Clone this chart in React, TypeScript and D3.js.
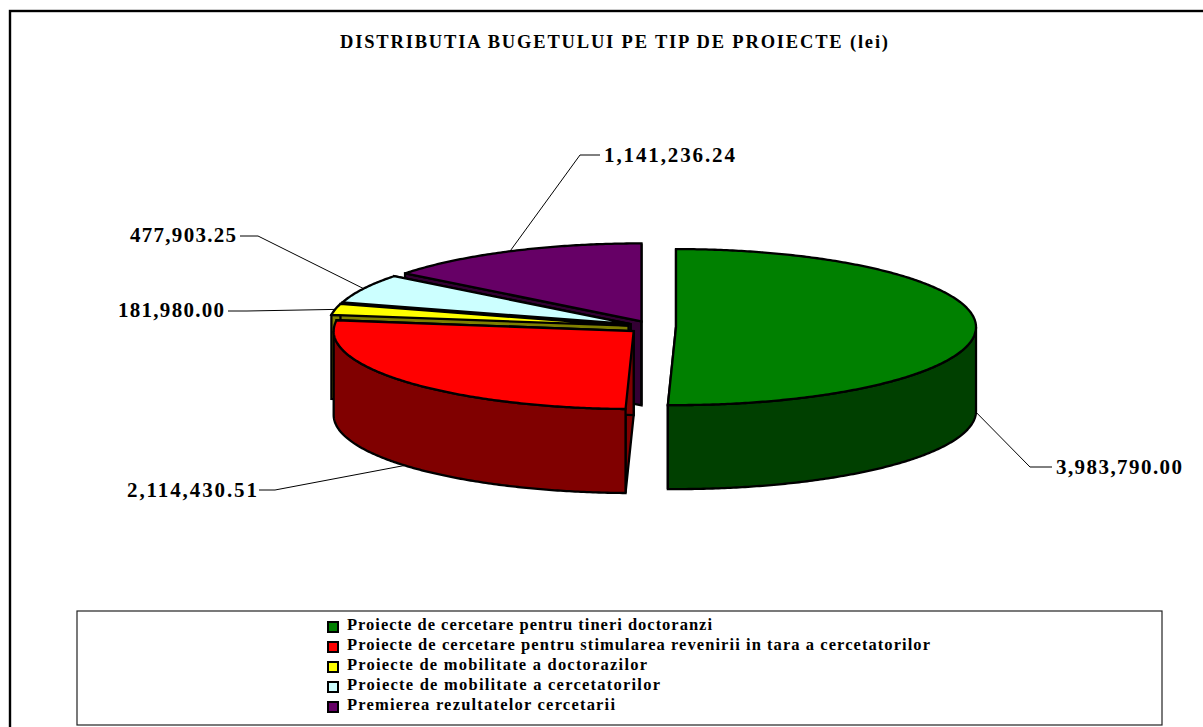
import React from "react";
import * as d3 from "d3";

const titleText = "DISTRIBUTIA BUGETULUI PE TIP DE PROIECTE (lei)";
const categories = [
  "Proiecte de cercetare pentru tineri doctoranzi",
  "Proiecte de cercetare pentru stimularea revenirii in tara a cercetatorilor",
  "Proiecte de mobilitate a doctorazilor",
  "Proiecte de mobilitate a cercetatorilor",
  "Premierea rezultatelor cercetarii",
];
const budgetValues = [3983790.0, 2114430.51, 181980.0, 477903.25, 1141236.24];
const topColors = ["#008000", "#FF0000", "#FFFF00", "#CCFFFF", "#660066"];
const wallColors = ["#004000", "#800000", "#808000", "#668080", "#330033"];

// layout
const cx = 652, cy = 327, rx = 300, ry = 78, depth = 84, explode = 24;
const FONT = "'Liberation Serif', 'Times New Roman', serif";
// per-slice: label left x, label width, baseline, elbow x, line-end x at label
const labelBoxes = [
  { x: 1056, w: 126, y: 474, elbowX: 1030, elbowY: 467, endX: 1052 },
  { x: 127, w: 130, y: 497, elbowX: 275, elbowY: 490, endX: 259 },
  { x: 118, w: 106, y: 317, elbowX: 247, elbowY: 311, endX: 228 },
  { x: 130, w: 106, y: 242, elbowX: 258, elbowY: 236, endX: 240 },
  { x: 604, w: 131, y: 162, elbowX: 580, elbowY: 155, endX: 600 },
];
const legendRows = { x: 347, markX: 327, firstY: 630, step: 20, widths: [365, 583, 300, 313, 268] };

const fmt = d3.format(",.2f");
const linePath = d3.line<[number, number]>().curve(d3.curveLinear);

export default function App() {
  const arcs = d3.pie<number>().sort(null).startAngle(0).endAngle(2 * Math.PI)(budgetValues);

  const slices = arcs.map((a, i) => {
    const mid = (a.startAngle + a.endAngle) / 2;
    const ax = cx + explode * Math.sin(mid);
    const ay = cy - explode * (ry / rx) * Math.cos(mid);
    const pt = (t: number, dy = 0): [number, number] => [ax + rx * Math.sin(t), ay - ry * Math.cos(t) + dy];
    const samples = (s: number, e: number, dy = 0): [number, number][] => {
      const n = Math.max(2, Math.ceil((e - s) / 0.01));
      return d3.range(n + 1).map((k) => pt(s + ((e - s) * k) / n, dy));
    };
    const apex: [number, number] = [ax, ay];
    const apexLow: [number, number] = [ax, ay + depth];
    const top = linePath([apex, ...samples(a.startAngle, a.endAngle)])! + "Z";
    const face = (t: number) => linePath([apex, pt(t), pt(t, depth), apexLow])! + "Z";
    const fs = Math.max(a.startAngle, Math.PI / 2);
    const fe = Math.min(a.endAngle, (3 * Math.PI) / 2);
    const wall =
      fe > fs
        ? linePath([...samples(fs, fe), ...samples(fs, fe, depth).reverse()])! + "Z"
        : null;
    // leader anchor: at mid-angle on the top rim, or on the wall's lower rim when front-facing
    const anchor = pt(mid, Math.cos(mid) < 0 ? depth : 0);
    return { i, top, faces: [face(a.startAngle), face(a.endAngle)], wall, anchor };
  });

  // painter's order: back slices first, the front-right slice last
  const order = [4, 3, 2, 1, 0];
  const common = { stroke: "#000", strokeWidth: 2.3, strokeLinejoin: "miter" as const, strokeMiterlimit: 3 };

  return (
    <svg
      width={1203}
      height={727}
      style={{ position: "fixed", left: 0, top: 0, background: "#fff", display: "block" }}
    >
      <rect x={10} y={11} width={1300} height={800} fill="#fff" stroke="#000" strokeWidth={2.4} />
      <text x={340} y={48} fontFamily={FONT} fontWeight="bold" fontSize={18.5} textLength={548} lengthAdjust="spacing" fill="#000">
        {titleText}
      </text>

      {order.map((idx) => {
        const s = slices[idx];
        return (
          <g key={idx}>
            {s.faces.map((d, k) => (
              <path key={k} d={d} fill={wallColors[idx]} {...common} />
            ))}
            {s.wall && <path d={s.wall} fill={wallColors[idx]} {...common} />}
            <path d={s.top} fill={topColors[idx]} {...common} />
          </g>
        );
      })}

      {slices.map((s) => {
        const b = labelBoxes[s.i];
        return (
          <g key={s.i}>
            <polyline
              points={`${b.endX},${b.elbowY} ${b.elbowX},${b.elbowY} ${s.anchor[0]},${s.anchor[1]}`}
              fill="none"
              stroke="#000"
              strokeWidth={1}
            />
            <text x={b.x} y={b.y} fontFamily={FONT} fontWeight="bold" fontSize={21} textLength={b.w} lengthAdjust="spacing" fill="#000">
              {fmt(budgetValues[s.i])}
            </text>
          </g>
        );
      })}

      <rect x={77} y={611} width={1085} height={114} fill="#fff" stroke="#222" strokeWidth={1.2} />
      {categories.map((c, i) => {
        const y = legendRows.firstY + i * legendRows.step;
        return (
          <g key={c}>
            <rect x={legendRows.markX + 1} y={y - 8} width={10} height={10} fill={topColors[i]} stroke="#000" strokeWidth={2} />
            <text x={legendRows.x} y={y} fontFamily={FONT} fontWeight="bold" fontSize={16.5} textLength={legendRows.widths[i]} lengthAdjust="spacing" fill="#000">
              {c}
            </text>
          </g>
        );
      })}
    </svg>
  );
}
